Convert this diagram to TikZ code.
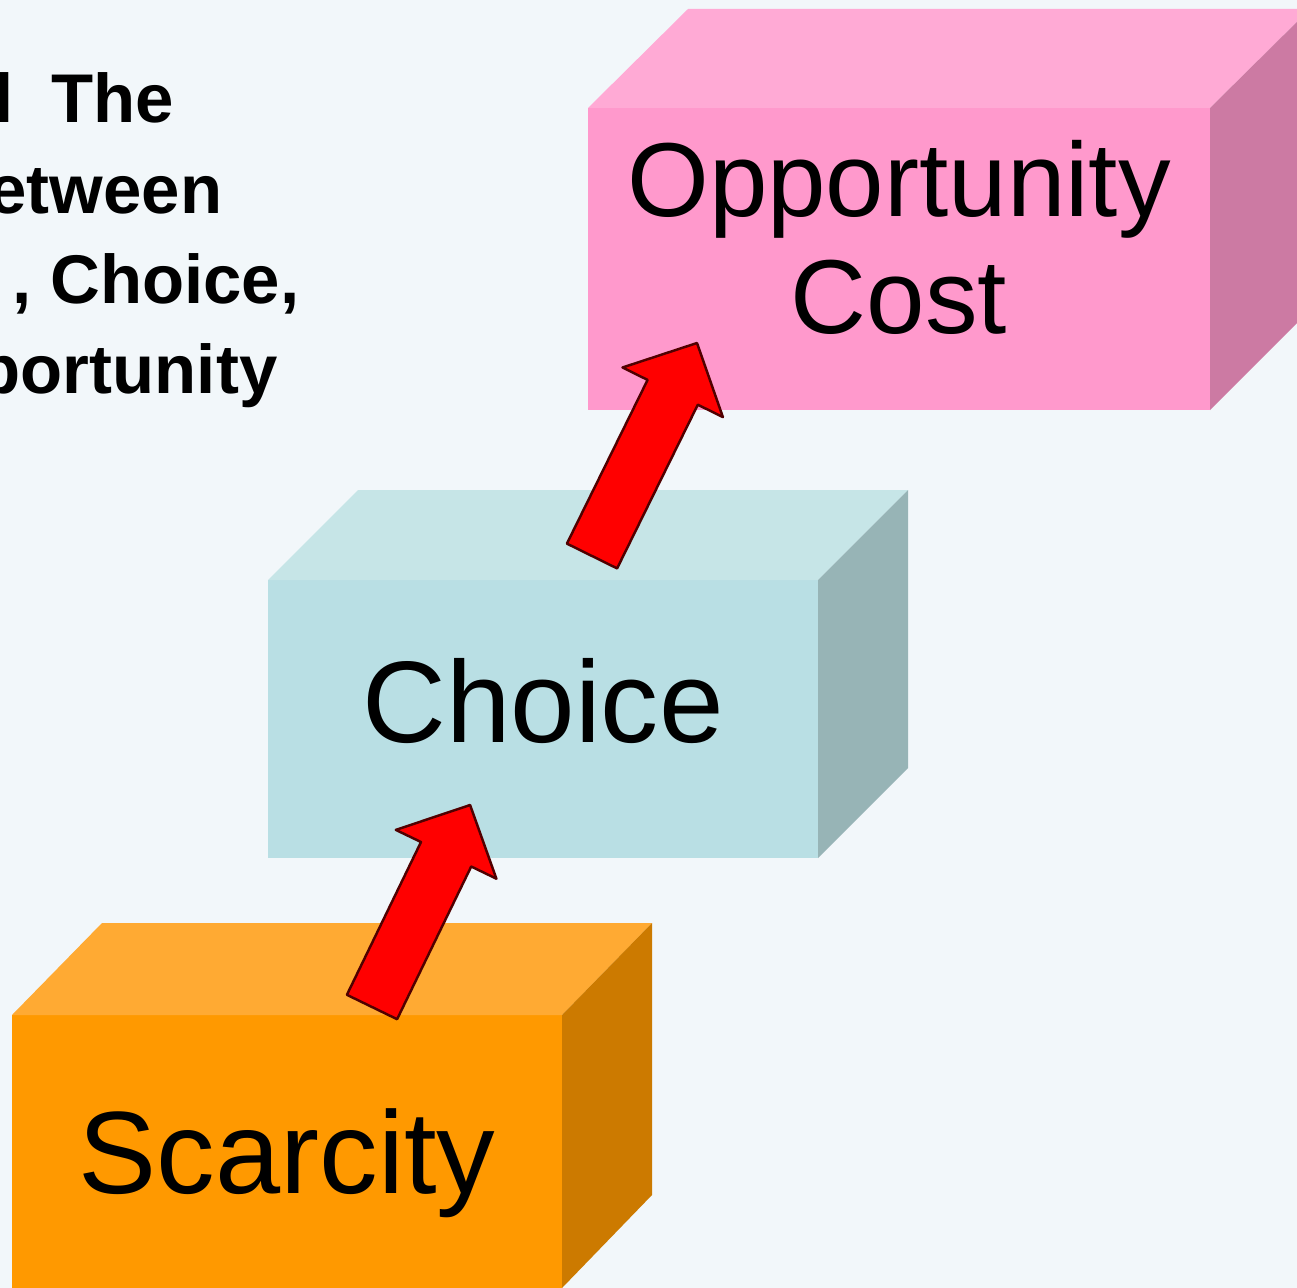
\documentclass[tikz,border=0pt]{standalone}
\usepackage{fontspec}
\setmainfont{Liberation Sans}
\definecolor{bg}{RGB}{242,247,250}
\definecolor{scF}{RGB}{255,153,0}
\definecolor{scT}{RGB}{255,170,51}
\definecolor{scS}{RGB}{204,122,0}
\definecolor{chF}{RGB}{185,223,228}
\definecolor{chT}{RGB}{198,229,231}
\definecolor{chS}{RGB}{151,180,182}
\definecolor{opF}{RGB}{255,153,204}
\definecolor{opT}{RGB}{255,170,213}
\definecolor{opS}{RGB}{204,122,163}
\definecolor{arrF}{RGB}{255,0,0}
\definecolor{arrD}{RGB}{80,0,0}
\tikzset{
  blockarrow/.style={fill=arrF, draw=arrD, line width=0.7pt, line join=round},
  boxlabel/.style={inner sep=0pt, text=black},
  titleline/.style={inner sep=0pt, anchor=base east, font=\fontsize{19.6pt}{25pt}\selectfont\bfseries}
}
\begin{document}
\begin{tikzpicture}[x=0.01cm, y=-0.01cm]
\useasboundingbox (0,0) rectangle (1297,1288);
\clip (0,0) rectangle (1297,1288);
\fill[bg] (0,0) rectangle (1297,1288);

% Opportunity Cost box
\fill[opF] (588,108) rectangle (1210,410);
\fill[opT] (588,108) -- (688,9) -- (1310,9) -- (1210,108) -- cycle;
\fill[opS] (1210,108) -- (1310,9) -- (1310,310) -- (1210,410) -- cycle;
\node[boxlabel, anchor=base, align=center, font=\fontsize{29.9pt}{33pt}\selectfont] (opp) at (899,333) {Opportunity\\Cost};

% Choice box
\fill[chF] (268,580) rectangle (818,858);
\fill[chT] (268,580) -- (358,490) -- (908,490) -- (818,580) -- cycle;
\fill[chS] (818,580) -- (908,490) -- (908,768) -- (818,858) -- cycle;
\node[boxlabel, anchor=base, font=\fontsize{33pt}{38pt}\selectfont] (choice) at (543,742) {Choice};

% Scarcity box
\fill[scF] (12,1015) rectangle (562,1300);
\fill[scT] (12,1015) -- (102,923) -- (652,923) -- (562,1015) -- cycle;
\fill[scS] (562,1015) -- (652,923) -- (652,1195) -- (562,1288) -- cycle;
\node[boxlabel, anchor=base, font=\fontsize{33.3pt}{38pt}\selectfont] (scarcity) at (287,1193) {Scarcity};

% arrows
\draw[blockarrow] (346.9,994.8) -- (421,842) -- (395.8,829.9) -- (470.1,805) -- (496.4,878.7) -- (471.2,866.5) -- (397.1,1019.2) -- cycle;
\draw[blockarrow] (566.9,543.6) -- (647.6,379.9) -- (622.5,367.5) -- (697,343) -- (722.9,417.1) -- (697.8,404.7) -- (617.1,568.4) -- cycle;

% title fragments
\node[titleline] (t1) at (175,123) {l~~The};
\node[titleline] (t2) at (223,213) {etween};
\node[titleline] (t3) at (300,303) {,~Choice,};
\node[titleline] (t4) at (278,393) {portunity};
\end{tikzpicture}
\end{document}
